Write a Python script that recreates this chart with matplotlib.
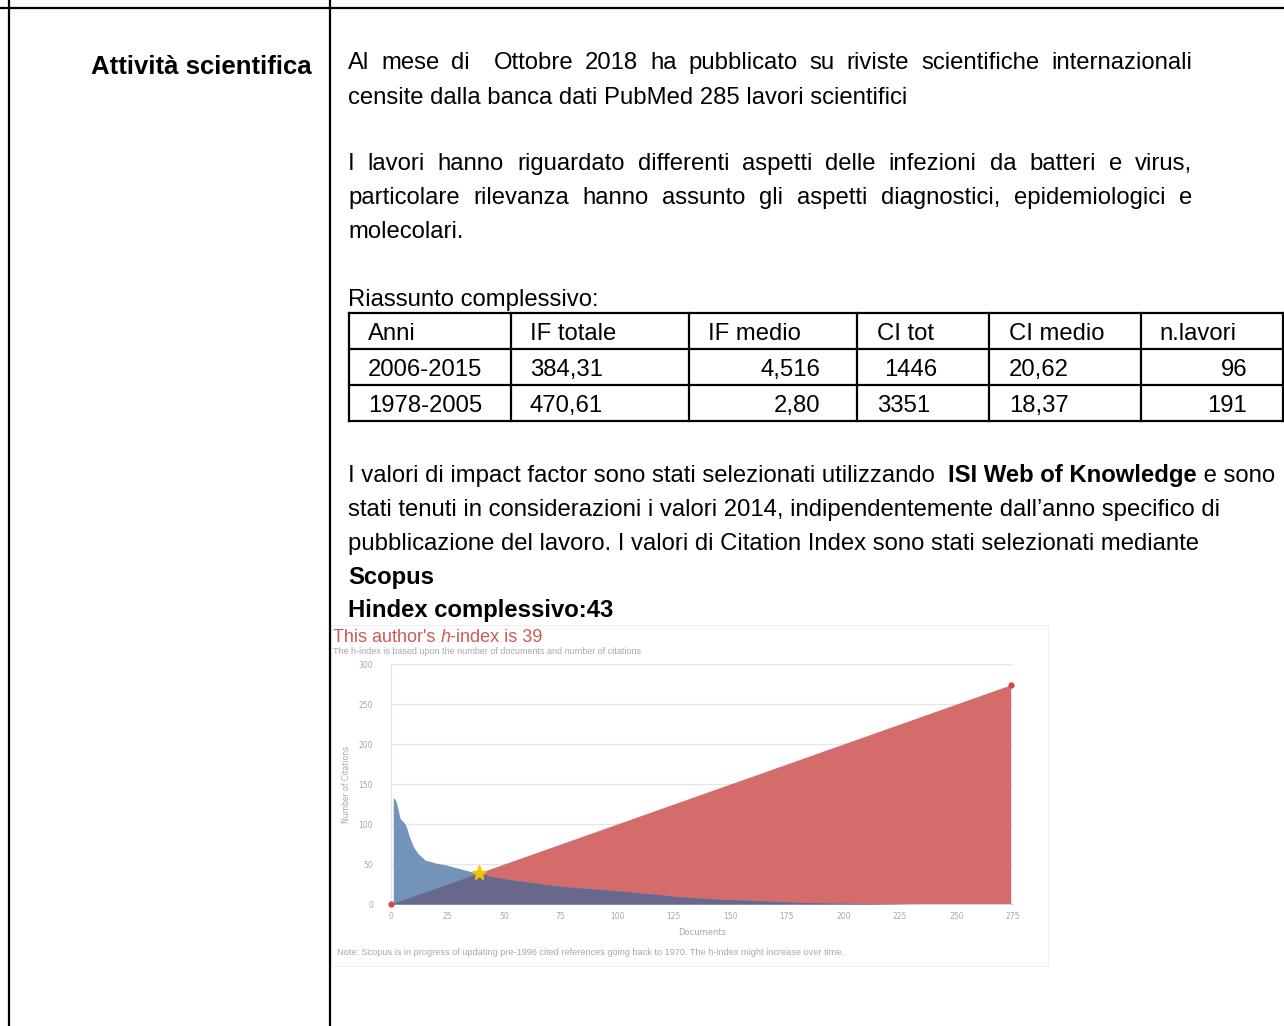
import matplotlib
matplotlib.use("Agg")
import matplotlib.pyplot as plt
import numpy as np
from matplotlib.lines import Line2D
from matplotlib.patches import Rectangle

W, H = 1284, 1026

# page text
SECTION = "Attività scientifica"
PARA1 = [
    "Al mese di  Ottobre 2018 ha pubblicato su riviste scientifiche internazionali",
    "censite dalla banca dati PubMed 285 lavori scientifici",
]
PARA2 = [
    "I lavori hanno riguardato differenti aspetti delle infezioni da batteri e virus,",
    "particolare rilevanza hanno assunto gli aspetti diagnostici, epidemiologici e",
    "molecolari.",
]
SUMMARY = "Riassunto complessivo:"
HEADERS = ["Anni", "IF totale", "IF medio", "CI tot", "CI medio", "n.lavori"]
ROWS = [
    ["2006-2015", "384,31", "4,516", "1446", "20,62", "96"],
    ["1978-2005", "470,61", "2,80", "3351", "18,37", "191"],
]

# h-index chart data (documents ranked by citations)
RANKS = [1, 2, 3, 4, 5, 6, 7, 8, 9, 10, 12, 15, 20, 24, 28, 32, 36, 39,
         45, 54, 62, 69, 80, 98, 110, 128, 145, 164, 180, 200, 232, 274]
CITES = [133, 130, 120, 107, 104, 101, 95, 85, 78, 71, 63, 55, 51, 49, 46,
         43, 40, 39, 34, 30, 27, 24, 21, 17, 14, 9, 6, 4, 2, 1, 0, 0]
N_DOCS = 274
H_INDEX = 39

FONT = ["Liberation Sans", "DejaVu Sans"]
FS = 17.2
BLUE = "#7394b8"
RED = "#d56c6c"
PURPLE = "#68688c"
CHART_GREY = "#a8a8a8"
TITLE_RED = "#cc5a52"

fig = plt.figure(figsize=(W / 100, H / 100), dpi=100)
renderer = fig.canvas.get_renderer()


def fx(x):
    return x / W


def fy(y):
    return 1 - y / H


def line(x0, y0, x1, y1, lw=1.6, color="black"):
    fig.add_artist(Line2D([fx(x0), fx(x1)], [fy(y0), fy(y1)], lw=lw, color=color))


def txt(x, y, s, weight="normal", ha="left", size=FS):
    return fig.text(fx(x), fy(y), s, fontsize=size, fontweight=weight, ha=ha,
                    va="baseline", family=FONT)


def width(s, weight="normal", size=FS):
    t = txt(0, 0, s, weight=weight, size=size)
    w = t.get_window_extent(renderer).width
    t.remove()
    return w


def justify(s, x0, x1, y):
    words = s.split(" ")
    widths = [width(w) if w else 0 for w in words]
    gap = (x1 - x0 - sum(widths)) / (len(words) - 1)
    x = x0
    for w, ww in zip(words, widths):
        if w:
            txt(x, y, w)
        x += ww + gap


def runs(segments, x, y):
    for s, weight in segments:
        txt(x, y, s, weight=weight)
        x += width(s, weight)


# page frame
line(0, 8, W, 8)
line(9, 0, 9, H)
line(330, 0, 330, H)

txt(312, 74, SECTION, weight="bold", ha="right", size=18.5)

justify(PARA1[0], 348, 1192, 69)
txt(348, 104, PARA1[1])
justify(PARA2[0], 348, 1192, 170)
justify(PARA2[1], 348, 1192, 204)
txt(348, 238, PARA2[2])
txt(348, 306, SUMMARY)

# summary table
col_x = [349, 511, 689, 857, 989, 1141, 1283]
row_y = [313, 349, 385, 421]
for yy in row_y:
    line(349, yy, 1283, yy)
for xx in col_x:
    line(xx, 313, xx, 421)
left_pad = [19, 19, 19, 20, 20, 18]
right_cols = {2: 820, 5: 1247}
for j, h in enumerate(HEADERS):
    txt(col_x[j] + left_pad[j], 340, h)
for i, row in enumerate(ROWS):
    y = 376 + 36 * i
    for j, v in enumerate(row):
        if j in right_cols:
            txt(right_cols[j], y, v, ha="right")
        elif j == 3 and i == 0:
            txt(884, y, v)
        else:
            txt(col_x[j] + left_pad[j], y, v)

runs([("I valori di impact factor sono stati selezionati utilizzando  ", "normal"),
      ("ISI Web of Knowledge", "bold"), (" e sono", "normal")], 348, 482)
txt(348, 516, "stati tenuti in considerazioni i valori 2014, indipendentemente dall\u2019anno specifico di")
txt(348, 550, "pubblicazione del lavoro. I valori di Citation Index sono stati selezionati mediante")
txt(348, 584, "Scopus", weight="bold")
txt(348, 617, "Hindex complessivo:43", weight="bold")

# embedded Scopus h-index chart
fig.add_artist(Rectangle((fx(331), fy(966)), fx(1048 - 331), (966 - 625) / H,
                         fill=False, ec="#f0f0f0", lw=0.8))
x_t = 333
for part, style in [("This author's ", "normal"), ("h", "italic"), ("-index is 39", "normal")]:
    fig.text(fx(x_t), fy(642), part, fontsize=13, color=TITLE_RED,
             family="Liberation Sans", style=style)
    x_t += width(part, size=13)
fig.text(fx(333), fy(654), "The h-index is based upon the number of documents and number of citations",
         fontsize=6.5, color=CHART_GREY, family="Liberation Sans")
fig.text(fx(337), fy(955), "Note: Scopus is in progress of updating pre-1996 cited references going back to 1970. "
         "The h-index might increase over time.", fontsize=6.6, color=CHART_GREY, family="Liberation Sans")

ax = fig.add_axes([fx(391), fy(904), (1013 - 391) / W, (904 - 664) / H])
ranks = np.array(RANKS)
cites = np.array(CITES)
ax.fill_between([0, N_DOCS], [0, N_DOCS], color=RED, lw=0, zorder=2)
ax.fill_between(ranks, cites, color=BLUE, lw=0, zorder=3)
ax.fill_between(ranks, np.minimum(cites, ranks), color=PURPLE, lw=0, zorder=4)
ax.plot([0, N_DOCS], [0, N_DOCS], "o", color="#d04848", ms=3.5, zorder=5, clip_on=False)
ax.plot([H_INDEX], [H_INDEX], marker="*", color="#f5c400", ms=11, zorder=6)
ax.set_xlim(0, 275)
ax.set_ylim(0, 300)
ax.set_xticks(np.arange(0, 276, 25))
ax.set_yticks(np.arange(0, 301, 50))
ax.grid(axis="y", color="#e6e6e6", lw=1)
ax.set_axisbelow(True)
for side in ["top", "right"]:
    ax.spines[side].set_visible(False)
ax.spines["left"].set_color("#dde3ee")
ax.spines["bottom"].set_color("#ccd6eb")
ax.tick_params(length=0, labelsize=5.5, labelcolor=CHART_GREY)
ax.tick_params(axis="y", pad=13)
ax.tick_params(axis="x", pad=6)
ax.set_xlabel("Documents", fontsize=6, color=CHART_GREY, labelpad=5)
ax.set_ylabel("Number of Citations", fontsize=5.5, color=CHART_GREY, labelpad=5)

fig.savefig("out.png", dpi=100)
